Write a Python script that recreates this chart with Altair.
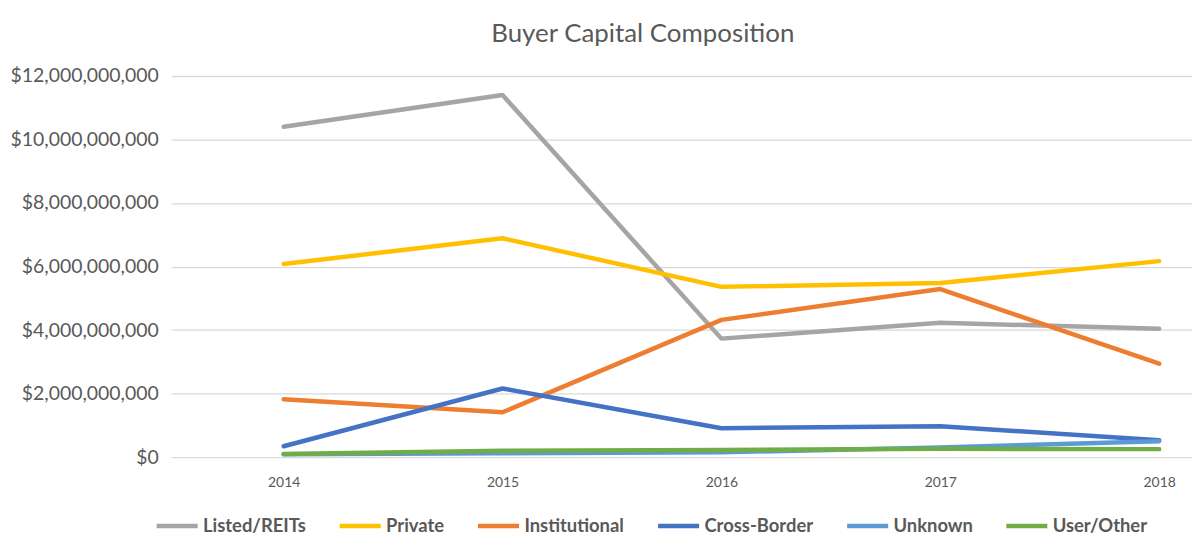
import altair as alt
import pandas as pd

years = [2014, 2015, 2016, 2017, 2018]
series_names = ["Listed/REITs", "Private", "Institutional", "Cross-Border", "Unknown", "User/Other"]
listed = [10.40e9, 11.40e9, 3.73e9, 4.23e9, 4.04e9]
private = [6.08e9, 6.89e9, 5.36e9, 5.48e9, 6.17e9]
institutional = [1.82e9, 1.41e9, 4.32e9, 5.29e9, 2.94e9]
cross_border = [0.34e9, 2.16e9, 0.91e9, 0.97e9, 0.53e9]
unknown = [0.09e9, 0.12e9, 0.15e9, 0.30e9, 0.50e9]
user_other = [0.10e9, 0.20e9, 0.22e9, 0.26e9, 0.25e9]
colors = ["#A5A5A5", "#FFC000", "#ED7D31", "#4472C4", "#5B9BD5", "#70AD47"]
y_ticks = [0, 2e9, 4e9, 6e9, 8e9, 10e9, 12e9]

values = [listed, private, institutional, cross_border, unknown, user_other]
rows = []
for i, (name, vals) in enumerate(zip(series_names, values)):
    for y, v in zip(years, vals):
        rows.append({"Year": y, "Value": v, "Series": name, "order": i})
df = pd.DataFrame(rows)

FONT = "Lato"

chart = alt.Chart(df).mark_line(strokeWidth=4.5, strokeCap="round", strokeJoin="round").encode(
    x=alt.X("Year:Q",
            scale=alt.Scale(domain=[2013.486, 2018.15], nice=False, zero=False),
            axis=alt.Axis(values=years, format="d", title=None, grid=False, domain=False,
                          ticks=False, labelFontSize=14, labelColor="#595959",
                          labelPadding=19, labelFont=FONT)),
    y=alt.Y("Value:Q",
            scale=alt.Scale(domain=[0, 12e9], nice=False),
            axis=alt.Axis(values=y_ticks, format="$,.0f", title=None, domain=False, ticks=False,
                          gridColor="#D9D9D9", gridWidth=1.3, labelFontSize=19.5,
                          labelColor="#595959", labelPadding=13, labelFont=FONT)),
    color=alt.Color("Series:N",
                    scale=alt.Scale(domain=series_names, range=colors),
                    sort=series_names,
                    legend=alt.Legend(title=None, orient="none", direction="horizontal",
                                      legendX=-17, legendY=429,
                                      symbolType="stroke", symbolSize=1700,
                                      symbolStrokeWidth=4.5, labelFontSize=18.5,
                                      labelFontWeight="bold", labelColor="#595959",
                                      labelFont=FONT, columnPadding=24,
                                      labelOffset=3)),
    order=alt.Order("order:Q"),
    detail="Series:N",
).properties(
    width=1026,
    height=383,
    title=alt.TitleParams("Buyer Capital Composition", fontSize=26, font=FONT,
                          fontWeight="normal", color="#595959", offset=19, dx=-39),
    autosize=alt.AutoSizeParams(type="none"),
    padding={"left": 164, "top": 67, "right": 0, "bottom": 82},
).configure_view(stroke=None)

chart.save("out.html", embed_options={"renderer": "svg", "actions": False})
